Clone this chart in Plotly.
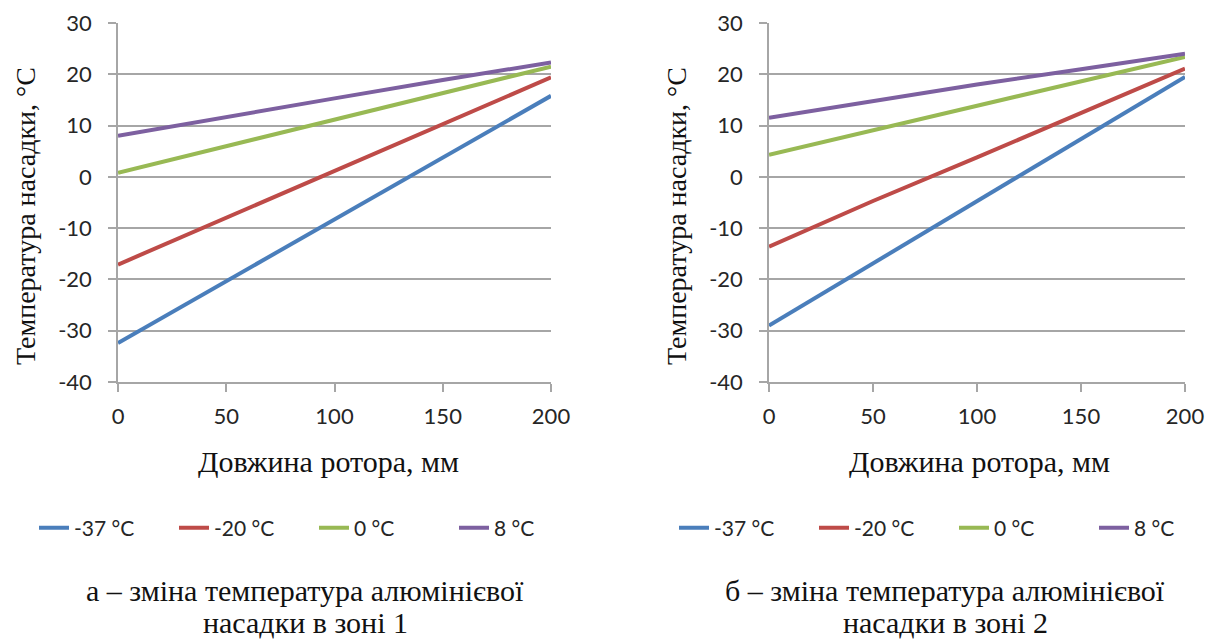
import plotly.graph_objects as go

x_mm = [0, 50, 100, 150, 200]
series_names = ["-37 °C", "-20 °C", "0 °C", "8 °C"]
colors = ["#4a7ebb", "#be4b48", "#98b954", "#7d60a0"]

zone1 = {
    "-37 °C": [-32.4, -20.4, -8.4, 3.7, 15.8],
    "-20 °C": [-17.1, -8.0, 1.0, 10.2, 19.4],
    "0 °C": [0.8, 6.0, 11.2, 16.4, 21.5],
    "8 °C": [8.0, 11.7, 15.3, 18.9, 22.3],
}
zone2 = {
    "-37 °C": [-29.0, -16.9, -4.7, 7.4, 19.5],
    "-20 °C": [-13.6, -4.7, 3.8, 12.5, 21.1],
    "0 °C": [4.3, 9.1, 13.9, 18.7, 23.4],
    "8 °C": [11.5, 14.8, 18.0, 21.0, 24.0],
}

y_ticks = [-40, -30, -20, -10, 0, 10, 20, 30]
y_ticktext = ["-40", "-30", "-20", "-10", "0", "10", "20", "30"]
x_ticks = [0, 50, 100, 150, 200]
x_ticktext = ["0", "50", "100", "150", "200"]

x_title = "Довжина ротора, мм"
y_title = "Температура насадки, °C"
captions = [["а – зміна температура алюмінієвої", "насадки в зоні 1"],
            ["б – зміна температура алюмінієвої", "насадки в зоні 2"]]

fig = go.Figure()
for name, col in zip(series_names, colors):
    fig.add_trace(go.Scatter(x=x_mm, y=zone1[name], mode="lines", name=name,
                             line=dict(color=col, width=4), xaxis="x", yaxis="y",
                             legend="legend"))
for name, col in zip(series_names, colors):
    fig.add_trace(go.Scatter(x=x_mm, y=zone2[name], mode="lines", name=name,
                             line=dict(color=col, width=4), xaxis="x2", yaxis="y2",
                             legend="legend2"))

W, H = 1217, 639
grid = "#a6a6a6"
sans = "Lato, Open Sans, sans-serif"
tickfont = dict(family=sans, size=22, color="#262626")

def xa(domain, anchor):
    return dict(domain=domain, anchor=anchor, range=[0, 200], tickvals=x_ticks,
                ticktext=x_ticktext,
                showgrid=False, showline=True, linecolor=grid, linewidth=1.5,
                ticks="outside", ticklen=8, tickcolor=grid, tickwidth=1.5,
                ticklabelstandoff=6,
                tickfont=tickfont, zeroline=False, fixedrange=True)

def ya(domain, anchor):
    return dict(domain=domain, anchor=anchor, range=[-40, 30], tickvals=y_ticks,
                ticktext=y_ticktext,
                showgrid=True, gridcolor=grid, gridwidth=1.5,
                showline=True, linecolor=grid, linewidth=1.5,
                ticks="outside", ticklen=8, tickcolor=grid, tickwidth=1.5,
                ticklabelstandoff=12,
                tickfont=tickfont, zeroline=False, fixedrange=True)

ydom = [1 - 382 / H, 1 - 23 / H]
legfont = dict(family=sans, size=21, color="#262626")
fig.update_layout(
    width=W, height=H, margin=dict(l=0, r=0, t=0, b=0, autoexpand=False),
    paper_bgcolor="white", plot_bgcolor="white",
    xaxis=xa([118 / W, 551 / W], "y"),
    yaxis=ya(ydom, "x"),
    xaxis2=xa([769 / W, 1185 / W], "y2"),
    yaxis2=ya(ydom, "x2"),
    legend=dict(orientation="h", x=34 / W, y=1 - 528 / H, xanchor="left", yanchor="middle",
                font=legfont, entrywidth=95, entrywidthmode="pixels",
                bgcolor="rgba(0,0,0,0)"),
    legend2=dict(orientation="h", x=674 / W, y=1 - 528 / H, xanchor="left", yanchor="middle",
                 font=legfont, entrywidth=95, entrywidthmode="pixels",
                 bgcolor="rgba(0,0,0,0)"),
    showlegend=True,
)

serif = "Liberation Serif, Times New Roman, serif"
annots = []
for cx, ax_x in [(328, 25), (979, 676)]:
    annots.append(dict(text=x_title, x=cx / W, y=1 - 461 / H, xref="paper", yref="paper",
                       showarrow=False, font=dict(family=serif, size=30, color="#111111"),
                       xanchor="center", yanchor="middle"))
    annots.append(dict(text=y_title, x=ax_x / W, y=1 - 216 / H, xref="paper", yref="paper",
                       showarrow=False, textangle=-90,
                       font=dict(family=serif, size=28, color="#111111"),
                       xanchor="center", yanchor="middle"))
for cx, cap in zip([305, 945], captions):
    for line, ly in zip(cap, [590, 622]):
        annots.append(dict(text=line, x=cx / W, y=1 - ly / H, xref="paper", yref="paper",
                           showarrow=False, font=dict(family=serif, size=30, color="#111111"),
                           xanchor="center", yanchor="middle"))
fig.update_layout(annotations=annots)

fig.write_html("out.html")
